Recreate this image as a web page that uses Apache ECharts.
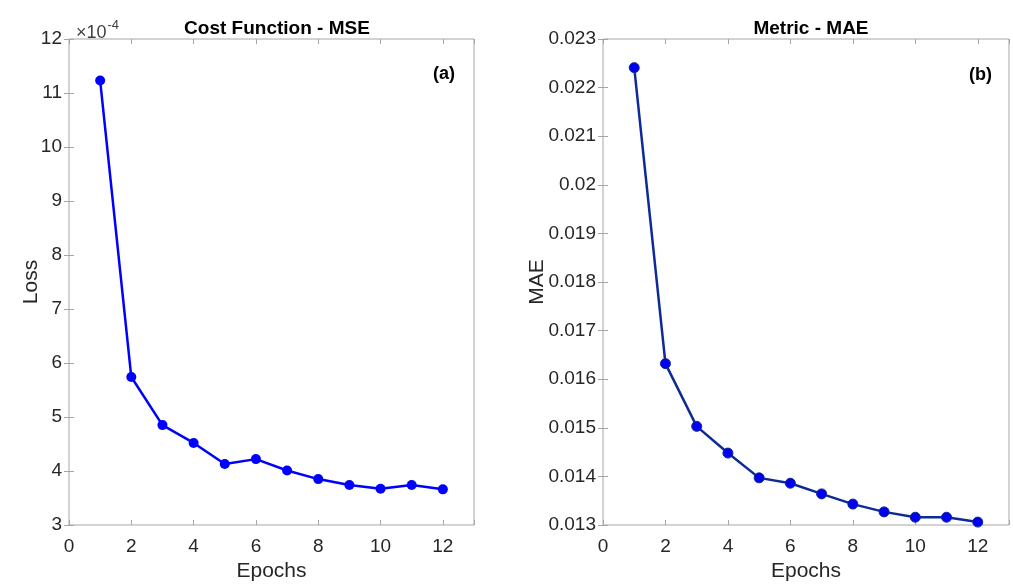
<!DOCTYPE html>
<html><head><meta charset="utf-8">
<script src="https://cdn.jsdelivr.net/npm/echarts@6/dist/echarts.min.js"></script>
<style>html,body{margin:0;padding:0;background:#fff}#c{width:1013px;height:587px}</style>
</head><body><div id="c"></div>
<script>
const epochs = [1,2,3,4,5,6,7,8,9,10,11,12];
// MSE loss, in units of 1e-4
const lossE4 = [11.23,5.74,4.85,4.52,4.13,4.22,4.01,3.85,3.74,3.67,3.74,3.66];
const mae = [0.02241,0.01632,0.01503,0.01448,0.01397,0.01386,0.01364,0.01343,0.01327,0.01316,0.01316,0.01306];
const titles = ['Cost Function - MSE','Metric - MAE'];
const panelTags = ['(a)','(b)'];
const yNames = ['Loss','MAE'];
const xName = 'Epochs';

const FONT = '"Liberation Sans", Arial, sans-serif';
const TXT = '#262626';
const AX = '#a6a6a6';

const grids = [
  {left:69, top:39, width:405, height:488, show:true, borderColor:AX, borderWidth:1},
  {left:603, top:39, width:406, height:488, show:true, borderColor:AX, borderWidth:1}
];

function xAxes(gi){
  const base = {type:'value', gridIndex:gi, min:0, max:13, interval:2,
    axisLine:{show:false}, splitLine:{show:false},
    axisTick:{inside:true, length:5, lineStyle:{color:AX}}};
  return [
    Object.assign({}, base, {position:'bottom', name:xName, nameLocation:'middle', nameGap:36,
      nameMoveOverlap:false,
      nameTextStyle:{fontFamily:FONT, fontSize:21, color:TXT},
      axisLabel:{fontFamily:FONT, fontSize:19, color:TXT, margin:12,
        formatter:v => (v % 2 === 0 ? String(v) : '')}}),
    Object.assign({}, base, {position:'top', axisLabel:{show:false}})
  ];
}
function yAxes(gi, min, max, interval, nameGap, fmt){
  const base = {type:'value', gridIndex:gi, min:min, max:max, interval:interval,
    axisLine:{show:false}, splitLine:{show:false},
    axisTick:{inside:true, length:5, lineStyle:{color:AX}}};
  const lab = {fontFamily:FONT, fontSize:19, color:TXT, margin:7};
  if (fmt) lab.formatter = fmt;
  return [
    Object.assign({}, base, {position:'left', name:yNames[gi], nameLocation:'middle', nameGap:nameGap,
      nameMoveOverlap:false,
      nameTextStyle:{fontFamily:FONT, fontSize:21, color:TXT},
      axisLabel:lab}),
    Object.assign({}, base, {position:'right', axisLabel:{show:false}})
  ];
}

const titleStyle = {fontFamily:FONT, fontSize:18, fontWeight:'bold', color:'#000'};
const option = {
  animation:false,
  backgroundColor:'#fff',
  grid: grids,
  title: [
    {text:titles[0], left:272, top:14, textAlign:'center', textStyle:Object.assign({}, titleStyle, {fontSize:19})},
    {text:titles[1], left:806, top:14, textAlign:'center', textStyle:Object.assign({}, titleStyle, {fontSize:19})},
    {text:panelTags[0], left:428, top:60, textStyle:titleStyle},
    {text:panelTags[1], left:964, top:61, textStyle:titleStyle},
    {text:'{a|×10}{b|-4}', left:71, top:11, textStyle:{fontWeight:'normal', rich:{
      a:{fontFamily:FONT, fontSize:18, fontWeight:'normal', color:'#404040', padding:[8,0,0,0]},
      b:{fontFamily:FONT, fontSize:13, fontWeight:'normal', color:'#404040', padding:[0,0,7,1]}}}}
  ],
  xAxis: xAxes(0).concat(xAxes(1)),
  yAxis: yAxes(0, 3, 12, 1, 27, v => String(v)).concat(yAxes(1, 0.013, 0.023, 0.001, 55, null)),
  series: [
    {type:'line', xAxisIndex:0, yAxisIndex:0, data:epochs.map((e,i)=>[e,lossE4[i]]),
     symbol:'circle', symbolSize:10, lineStyle:{color:'#0000ff', width:2.5},
     itemStyle:{color:'#0000ff'}},
    {type:'line', xAxisIndex:2, yAxisIndex:2, data:epochs.map((e,i)=>[e,mae[i]]),
     symbol:'circle', symbolSize:10, lineStyle:{color:'#0d2a96', width:2.5},
     itemStyle:{color:'#0000f0', borderColor:'#0d2a96', borderWidth:1}}
  ]
};
const chart = echarts.init(document.getElementById('c'), null, {renderer:'canvas'});
chart.setOption(option);
</script></body></html>
